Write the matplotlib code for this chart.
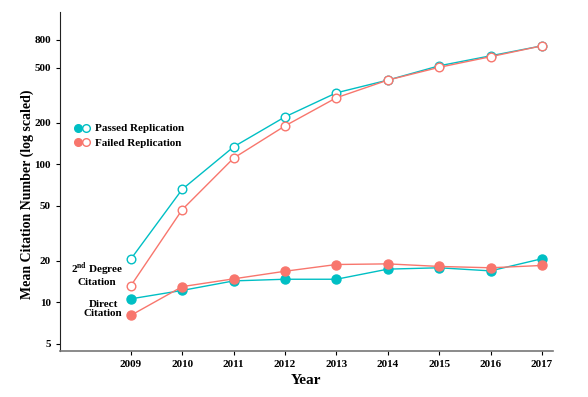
import matplotlib
matplotlib.use("Agg")
import matplotlib.pyplot as plt
from matplotlib.lines import Line2D
from matplotlib.legend_handler import HandlerTuple

plt.rcParams['font.family'] = 'Liberation Serif'
plt.rcParams['font.weight'] = 'bold'
plt.rcParams['mathtext.fontset'] = 'custom'
plt.rcParams['mathtext.rm'] = 'Liberation Serif:bold'

years = [2009, 2010, 2011, 2012, 2013, 2014, 2015, 2016, 2017]
passed_direct = [10.6, 12.2, 14.3, 14.7, 14.7, 17.4, 17.8, 16.9, 20.7]
failed_direct = [8.05, 13.0, 14.8, 16.8, 18.8, 19.0, 18.2, 17.8, 18.5]
passed_second = [20.6, 66, 134, 221, 330, 408, 518, 612, 723]
failed_second = [13.2, 47, 111, 190, 304, 408, 505, 603, 723]
yticks = [5, 10, 20, 50, 100, 200, 500, 800]

teal = '#00BFC4'
salmon = '#F8766D'

fig = plt.figure(figsize=(5.88, 3.97), dpi=100)
ax = fig.add_axes([0.102, 0.1166, 0.838, 0.853])

ax.plot(years, passed_second, color=teal, lw=1, marker='o', ms=6.2,
        mfc='white', mec=teal, mew=1)
ax.plot(years, failed_second, color=salmon, lw=1, marker='o', ms=6.2,
        mfc='white', mec=salmon, mew=1)
ax.plot(years, passed_direct, color=teal, lw=1, marker='o', ms=6.5,
        mfc=teal, mec=teal)
ax.plot(years, failed_direct, color=salmon, lw=1, marker='o', ms=6.5,
        mfc=salmon, mec=salmon)

ax.set_yscale('log')
ax.set_ylim(4.46, 1270)
ax.set_xlim(2007.62, 2017.21)
ax.set_yticks(yticks)
ax.set_yticklabels([str(t) for t in yticks])
ax.minorticks_off()
ax.set_xticks(years)
ax.tick_params(labelsize=8, length=3, width=0.8)

for s in ['top', 'right']:
    ax.spines[s].set_visible(False)
ax.spines['left'].set_color('#222222')
ax.spines['bottom'].set_color('#777777')
ax.spines['bottom'].set_linewidth(1.2)

ax.set_xlabel('Year', fontsize=11, fontweight='bold')
ax.set_ylabel('Mean Citation Number (log scaled)', fontsize=10, fontweight='bold')
ax.yaxis.set_label_coords(-0.052, 0.463)

ax.text(2008.34, 16.0, '2$^{\\mathrm{nd}}$ Degree\nCitation', ha='center', va='center',
        fontsize=8, fontweight='bold', linespacing=1.0)
ax.text(2008.46, 8.9, 'Direct\nCitation', ha='center', va='center',
        fontsize=8, fontweight='bold', linespacing=1.0)

h_pass = (Line2D([], [], ls='', marker='o', ms=5.5, mfc=teal, mec=teal),
          Line2D([], [], ls='', marker='o', ms=5.5, mfc='white', mec=teal))
h_fail = (Line2D([], [], ls='', marker='o', ms=5.5, mfc=salmon, mec=salmon),
          Line2D([], [], ls='', marker='o', ms=5.5, mfc='white', mec=salmon))
ax.legend([h_pass, h_fail], ['Passed Replication', 'Failed Replication'],
          handler_map={tuple: HandlerTuple(ndivide=None, pad=0.2)},
          loc='upper left', bbox_to_anchor=(0.01, 0.70), frameon=False,
          fontsize=8, handlelength=1.3, handletextpad=0.5, labelspacing=0.4)

fig.savefig('out.png', dpi=100)
